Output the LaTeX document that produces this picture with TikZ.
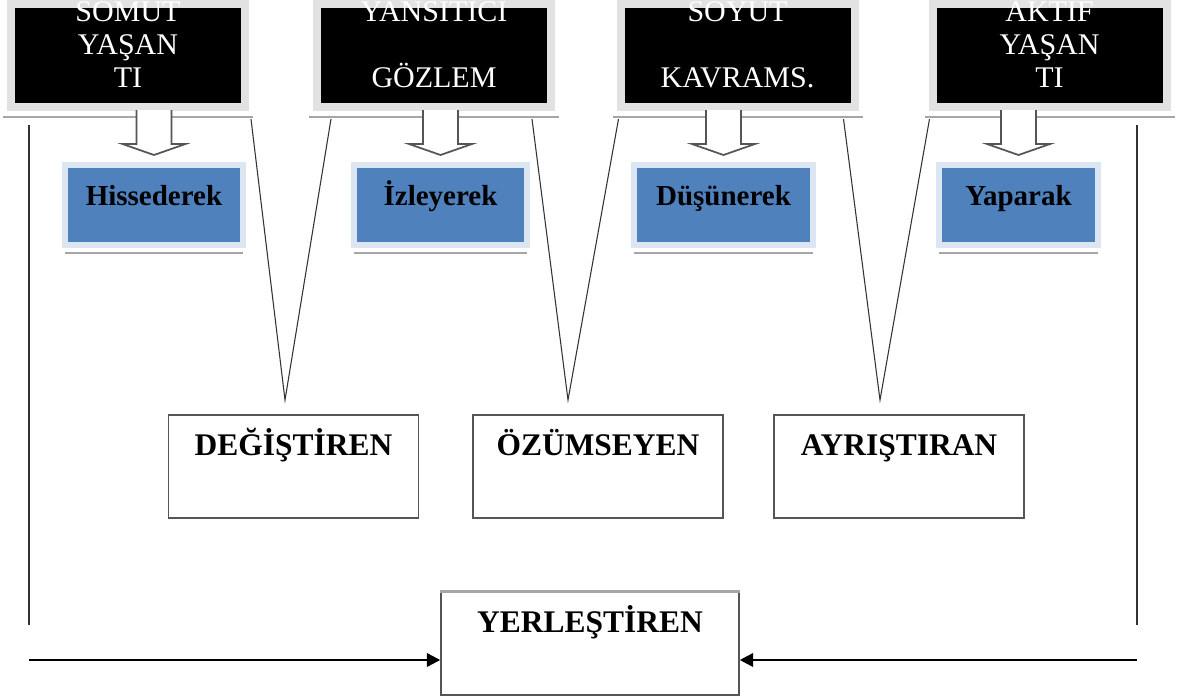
\documentclass[tikz,border=0pt]{standalone}
\usepackage{fontspec}
\setmainfont{Liberation Serif}
\usetikzlibrary{positioning,arrows.meta,calc}
\definecolor{steel}{HTML}{4F81BD}
\definecolor{mist}{HTML}{DCE6F2}
\definecolor{ash}{HTML}{E2E2E2}
\definecolor{slate}{HTML}{555555}
\tikzset{
  stage/.style={fill=black,draw=ash,line width=6pt,inner sep=0pt,align=center,text=white,
                minimum width=175.5pt,minimum height=77.25pt,text height=62.25pt,text depth=15pt,
                font=\fontsize{22.5}{24.75}\selectfont},
  mode/.style={fill=steel,draw=mist,line width=4.5pt,inner sep=0pt,minimum height=60pt,
               text height=22.5pt,text depth=22.5pt,font=\fontsize{21.75}{26}\selectfont\bfseries},
  kind/.style={draw=slate,line width=1.1pt,fill=white,inner sep=0pt,minimum width=187.5pt,
               minimum height=77.25pt,text height=18.75pt,text depth=36pt,
               font=\fontsize{23.6}{28}\selectfont\bfseries},
  hollow/.style={draw=slate,line width=1.3pt,fill=white,line join=miter},
  rim/.style={draw=gray!70,line width=2pt},
  link/.style={draw=black!80,line width=0.8pt},
  feed/.style={-{Triangle[length=10pt,width=10pt]},draw=black,line width=1.8pt},
  droparrow/.pic={\draw[hollow] (-17.5,-52) -- (-17.5,-18) -- (-31.5,-18) -- (0,-7)
                  -- (31.5,-18) -- (17.5,-18) -- (17.5,-52);}
}
\begin{document}
\begin{tikzpicture}[x=0.75pt,y=-0.75pt]
    \useasboundingbox (0,0) rectangle (1178,697);
    \clip (0,0) rectangle (1178,697);
    \fill[white] (0,0) rectangle (1178,697);
    % learning stages
    \node[stage] (b1) at (128,55.5) {SOMUT\\YAŞAN\\TI};
    \node[stage] (b2) at (434,55.5) {YANSITICI\\[24.75pt]GÖZLEM};
    \node[stage] (b3) at (737.5,55.5) {SOYUT\\[24.75pt]KAVRAMS.};
    \node[stage] (b4) at (1049.5,55.5) {AKTIF\\YAŞAN\\TI};
    \draw[rim] ([shift={(-3pt,-4.5pt)}]b1.south west) -- ([shift={(3pt,-4.5pt)}]b1.south east);
    \draw[rim] ([shift={(-3pt,-4.5pt)}]b2.south west) -- ([shift={(3pt,-4.5pt)}]b2.south east);
    \draw[rim] ([shift={(-3pt,-4.5pt)}]b3.south west) -- ([shift={(3pt,-4.5pt)}]b3.south east);
    \draw[rim] ([shift={(-3pt,-4.5pt)}]b4.south west) -- ([shift={(3pt,-4.5pt)}]b4.south east);
    % ways of learning
    \node[mode,minimum width=133.5pt] (h1) at (154,205) {Hissederek};
    \node[mode,minimum width=129.75pt] (h2) at (440.5,205) {İzleyerek};
    \node[mode,minimum width=134.25pt] (h3) at (723.5,205) {Düşünerek};
    \node[mode,minimum width=119.25pt] (h4) at (1018.5,205) {Yaparak};
    \draw[rim] ([shift={(2.25pt,-3.75pt)}]h1.south west) -- ([shift={(-2.25pt,-3.75pt)}]h1.south east);
    \draw[rim] ([shift={(2.25pt,-3.75pt)}]h2.south west) -- ([shift={(-2.25pt,-3.75pt)}]h2.south east);
    \draw[rim] ([shift={(2.25pt,-3.75pt)}]h3.south west) -- ([shift={(-2.25pt,-3.75pt)}]h3.south east);
    \draw[rim] ([shift={(2.25pt,-3.75pt)}]h4.south west) -- ([shift={(-2.25pt,-3.75pt)}]h4.south east);
    \pic at (h1.north) {droparrow};
    \pic at (h2.north) {droparrow};
    \pic at (h3.north) {droparrow};
    \pic at (h4.north) {droparrow};
    % learning styles
    \node[kind] (m1) at (293.5,466.5) {DEĞİŞTİREN};
    \node[kind] (m2) at (598,466.5) {ÖZÜMSEYEN};
    \node[kind] (m3) at (899,466.5) {AYRIŞTIRAN};
    \node[kind,minimum width=223.5pt] (ye) at (590,643.5) {YERLEŞTİREN};
    \draw[rim] (ye.north west) -- (ye.north east);
    \coordinate (v1) at (285,400);
    \coordinate (v2) at (568,400);
    \coordinate (v3) at (880,400);
    \draw[link] ($(b1.south east)+(2,8)$) -- (v1) -- ($(b2.south west)+(18,8)$);
    \draw[link] ($(b2.south east)+(-23,8)$) -- (v2) -- ($(b3.south west)+(2,8)$);
    \draw[link] ($(b3.south east)+(-15,8)$) -- (v3) -- ($(b4.south west)+(1,8)$);
    % side lines into the last style
    \coordinate (ltop) at (29,125);
    \coordinate (lbot) at (29,625);
    \coordinate (lin) at (29,660);
    \coordinate (rtop) at (1137,125);
    \coordinate (rbot) at (1137,625);
    \coordinate (rin) at (1137,660);
    \draw[link] (ltop) -- (lbot);
    \draw[link] (rtop) -- (rbot);
    \draw[feed] (lin) -- (lin -| ye.west);
    \draw[feed] (rin) -- (rin -| ye.east);
  \end{tikzpicture}
\end{document}
